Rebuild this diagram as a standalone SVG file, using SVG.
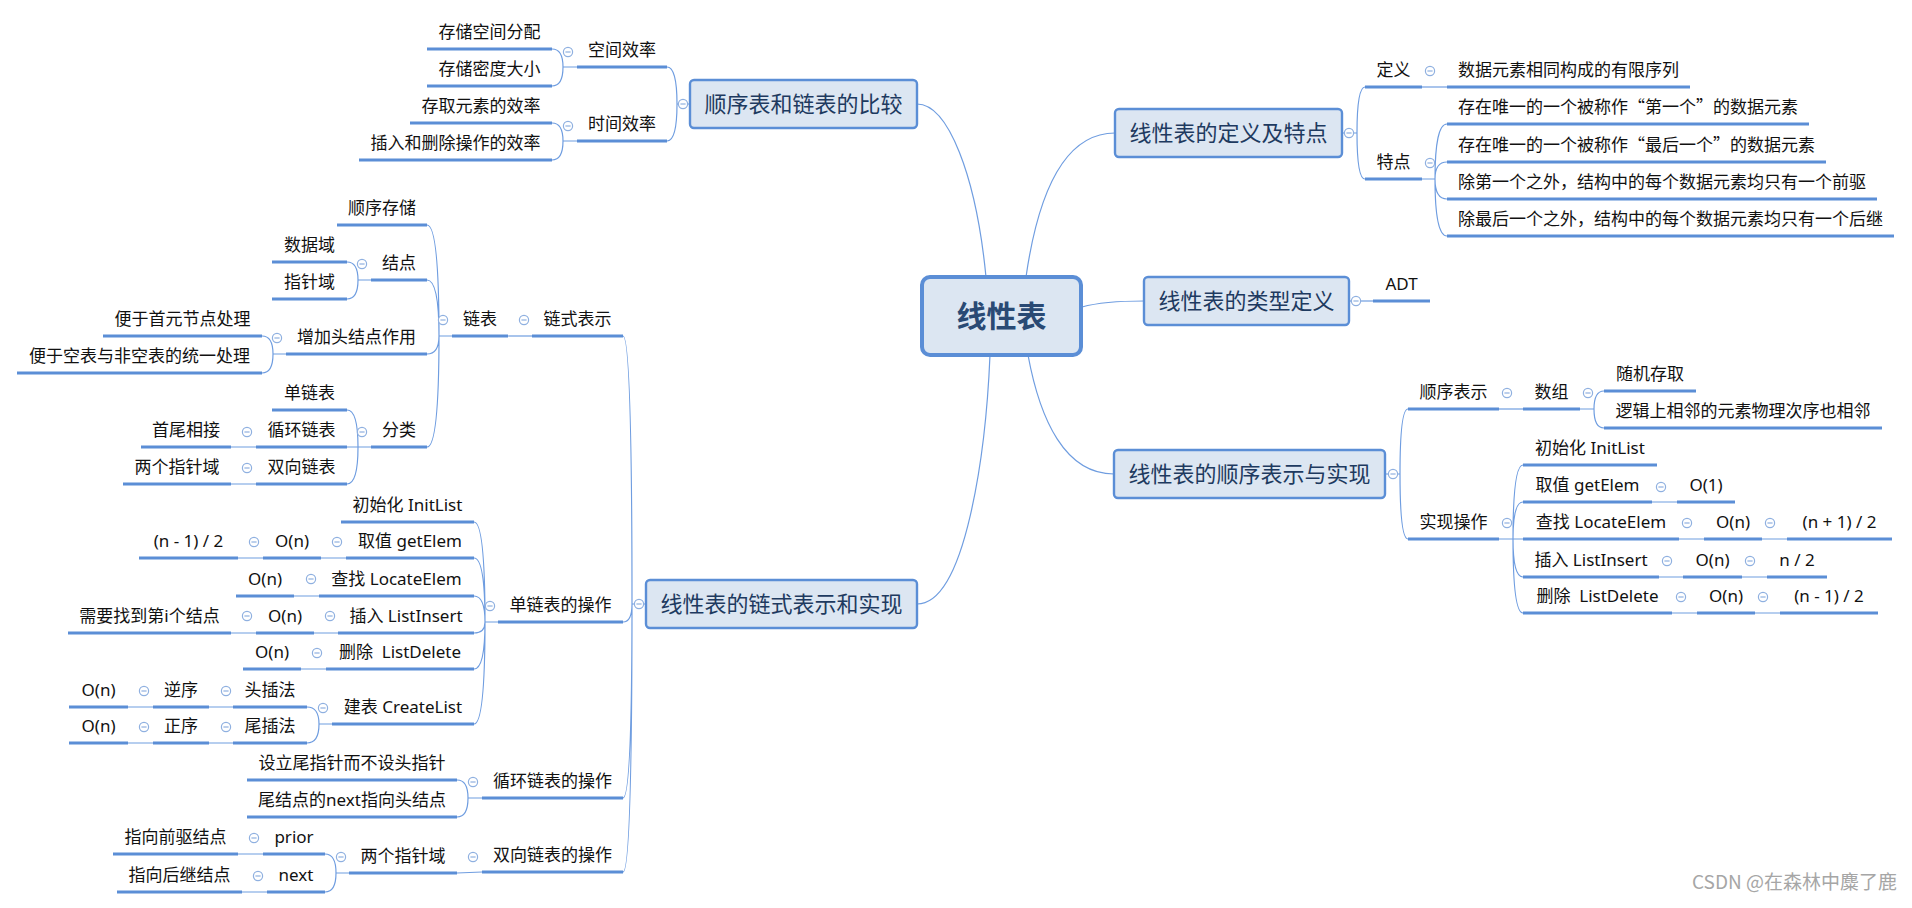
<svg xmlns="http://www.w3.org/2000/svg" xmlns:xlink="http://www.w3.org/1999/xlink" width="1912" height="908" viewBox="0 0 1912 908">
<style>
.ul{stroke:#5b8ed6;stroke-width:3;fill:none}
.cn{stroke:#6f9de0;stroke-width:1.2;fill:none}
.t{font-family:"Noto Sans","Noto Sans CJK SC",sans-serif;font-size:17px;fill:#111;text-anchor:middle}
.q{font-family:"Noto Sans CJK SC",sans-serif}
.box{fill:#dce6f2;stroke:#5b8ed6;stroke-width:2.4}
.bt{font-family:"Noto Sans CJK SC","Liberation Sans",sans-serif;font-size:22px;fill:#1e3a60;text-anchor:middle}
.ct{font-family:"Noto Sans CJK SC","Liberation Sans",sans-serif;font-size:30px;font-weight:bold;fill:#2a4a74;text-anchor:middle}
.wm{font-family:"Noto Sans CJK SC","Liberation Sans",sans-serif;font-size:19px;fill:#a6a6a6;text-anchor:end}
</style>
<defs>
<g id="c"><circle r="4.6" fill="#fff" stroke="#8fb0e0" stroke-width="1.2"/><line x1="-2.6" y1="0" x2="2.6" y2="0" stroke="#8fb0e0" stroke-width="1.2"/></g>
</defs>
<rect width="1912" height="908" fill="#fff"/>

<g id="connectors">
<path class="cn" d="M917,104 C948,104 976,175 986,277"/>
<path class="cn" d="M1026,277 C1040,180 1070,133 1115,133"/>
<path class="cn" d="M1082,307 C1100,302 1120,301 1144,301"/>
<path class="cn" d="M1028,355 C1040,420 1065,474 1114,474"/>
<path class="cn" d="M990,355 C986,450 966,604 917,604"/>
<path class="cn" d="M690,104 H677 M677,104 Q677,67 667,67 M677,104 Q677,141 667,141"/>
<path class="cn" d="M577,67 H563 M563,67 Q563,49 552,49 M563,67 Q563,86 552,86"/>
<path class="cn" d="M577,141 H563 M563,141 Q563,123 552,123 M563,141 Q563,160 552,160"/>
<path class="cn" d="M646,604 H632 M632,604 Q632,336 623,336 M632,604 Q632,622 623,622 M632,604 Q632,798 623,798 M632,604 Q632,872 623,872"/>
<path class="cn" d="M532,336 H508"/>
<path class="cn" d="M452,336 H439 M439,336 Q439,225 427,225 M439,336 Q439,280 427,280 M439,336 Q439,354 427,354 M439,336 Q439,447 427,447"/>
<path class="cn" d="M371,280 H358 M358,280 Q358,262 347,262 M358,280 Q358,299 347,299"/>
<path class="cn" d="M286,354 H273 M273,354 Q273,336 262,336 M273,354 Q273,373 262,373"/>
<path class="cn" d="M371,447 H347 M358,447 Q358,410 347,410 M358,447 Q358,484 347,484"/>
<path class="cn" d="M256,447 H231 M256,484 H231"/>
<path class="cn" d="M498,622 H485 M485,622 Q485,522 474,522 M485,622 Q485,558 474,558 M485,622 Q485,596 474,596 M485,622 Q485,633 474,633 M485,622 Q485,669 474,669 M485,622 Q485,724 474,724"/>
<path class="cn" d="M346,558 H321 M263,558 H238 M319,596 H294 M338,633 H314 M256,633 H231 M326,669 H301"/>
<path class="cn" d="M332,724 H319 M319,724 Q319,707 307,707 M319,724 Q319,743 307,743"/>
<path class="cn" d="M233,707 H209 M153,707 H128 M233,743 H209 M153,743 H128"/>
<path class="cn" d="M482,798 H468 M468,798 Q468,780 457,780 M468,798 Q468,817 457,817"/>
<path class="cn" d="M482,872 L457,873"/>
<path class="cn" d="M349,873 H336 M336,873 Q336,854 325,854 M336,873 Q336,892 325,892"/>
<path class="cn" d="M263,854 H238 M267,892 H242"/>
<path class="cn" d="M1342,133 H1357 M1357,133 Q1357,87 1365,87 M1357,133 Q1357,179 1365,179"/>
<path class="cn" d="M1422,87 H1447"/>
<path class="cn" d="M1422,179 H1435 M1435,179 Q1435,124 1447,124 M1435,179 Q1435,162 1447,162 M1435,179 Q1435,199 1447,199 M1435,179 Q1435,236 1447,236"/>
<path class="cn" d="M1349,301 H1373"/>
<path class="cn" d="M1385,474 H1400 M1400,474 Q1400,409 1408,409 M1400,474 Q1400,539 1408,539"/>
<path class="cn" d="M1499,409 H1523"/>
<path class="cn" d="M1580,409 H1594 M1594,409 Q1594,391 1604,391 M1594,409 Q1594,428 1604,428"/>
<path class="cn" d="M1499,539 H1513 M1513,539 Q1513,465 1523,465 M1513,539 Q1513,502 1523,502 M1513,539 H1523 M1513,539 Q1513,577 1523,577 M1513,539 Q1513,613 1523,613"/>
<path class="cn" d="M1652,502 H1677 M1679,539 H1704 M1762,539 H1787 M1659,577 H1683 M1742,577 H1767 M1672,613 H1697 M1755,613 H1780"/>
</g>

<g id="root"><rect x="922" y="277" width="159" height="78" rx="8" fill="#dce6f2" stroke="#5b8ed6" stroke-width="4"/><text class="ct" x="1001.5" y="327">线性表</text></g>

<g id="n_compare"><rect class="box" x="690" y="80" width="227" height="48" rx="4"/><text class="bt" x="803.5" y="112">顺序表和链表的比较</text><use xlink:href="#c" x="683" y="104"/></g>
<g id="n_linked"><rect class="box" x="646" y="580" width="271" height="48" rx="4"/><text class="bt" x="781.5" y="612">线性表的链式表示和实现</text><use xlink:href="#c" x="639" y="604"/></g>
<g id="n_def"><rect class="box" x="1115" y="109" width="227" height="48" rx="4"/><text class="bt" x="1228.5" y="141">线性表的定义及特点</text><use xlink:href="#c" x="1349" y="133"/></g>
<g id="n_type"><rect class="box" x="1144" y="277" width="205" height="48" rx="4"/><text class="bt" x="1246.5" y="309">线性表的类型定义</text><use xlink:href="#c" x="1356" y="301"/></g>
<g id="n_seq"><rect class="box" x="1114" y="450" width="271" height="48" rx="4"/><text class="bt" x="1249.5" y="482">线性表的顺序表示与实现</text><use xlink:href="#c" x="1393" y="474"/></g>

<g id="n_space"><path class="ul" d="M577,67 H667"/><text class="t" x="622" y="56">空间效率</text><use xlink:href="#c" x="568" y="52"/></g>
<g id="n_space1"><path class="ul" d="M427,49 H552"/><text class="t" x="489.5" y="38">存储空间分配</text></g>
<g id="n_space2"><path class="ul" d="M427,86 H552"/><text class="t" x="489.5" y="75">存储密度大小</text></g>
<g id="n_time"><path class="ul" d="M577,141 H667"/><text class="t" x="622" y="130">时间效率</text><use xlink:href="#c" x="568" y="126"/></g>
<g id="n_time1"><path class="ul" d="M410,123 H552"/><text class="t" x="481" y="112">存取元素的效率</text></g>
<g id="n_time2"><path class="ul" d="M359,160 H552"/><text class="t" x="455.5" y="149">插入和删除操作的效率</text></g>

<g id="n_chain"><path class="ul" d="M532,336 H623"/><text class="t" x="577.5" y="325">链式表示</text><use xlink:href="#c" x="524" y="320"/></g>
<g id="n_list"><path class="ul" d="M452,336 H508"/><text class="t" x="480" y="325">链表</text><use xlink:href="#c" x="443" y="320"/></g>
<g id="n_seqstore"><path class="ul" d="M337,225 H427"/><text class="t" x="382" y="214">顺序存储</text></g>
<g id="n_node"><path class="ul" d="M371,280 H427"/><text class="t" x="399" y="269">结点</text><use xlink:href="#c" x="362" y="264"/></g>
<g id="n_data"><path class="ul" d="M272,262 H347"/><text class="t" x="309.5" y="251">数据域</text></g>
<g id="n_ptr"><path class="ul" d="M272,299 H347"/><text class="t" x="309.5" y="288">指针域</text></g>
<g id="n_head"><path class="ul" d="M286,354 H427"/><text class="t" x="356.5" y="343">增加头结点作用</text><use xlink:href="#c" x="277" y="338"/></g>
<g id="n_head1"><path class="ul" d="M103,336 H262"/><text class="t" x="182.5" y="325">便于首元节点处理</text></g>
<g id="n_head2"><path class="ul" d="M17,373 H262"/><text class="t" x="139.5" y="362">便于空表与非空表的统一处理</text></g>
<g id="n_class"><path class="ul" d="M371,447 H427"/><text class="t" x="399" y="436">分类</text><use xlink:href="#c" x="362" y="432"/></g>
<g id="n_single"><path class="ul" d="M272,410 H347"/><text class="t" x="309.5" y="399">单链表</text></g>
<g id="n_circ"><path class="ul" d="M256,447 H347"/><text class="t" x="301.5" y="436">循环链表</text><use xlink:href="#c" x="247" y="432"/></g>
<g id="n_circ1"><path class="ul" d="M141,447 H231"/><text class="t" x="186" y="436">首尾相接</text></g>
<g id="n_dbl"><path class="ul" d="M256,484 H347"/><text class="t" x="301.5" y="473">双向链表</text><use xlink:href="#c" x="247" y="468"/></g>
<g id="n_dbl1"><path class="ul" d="M123,484 H231"/><text class="t" x="177" y="473">两个指针域</text></g>

<g id="n_sop"><path class="ul" d="M498,622 H623"/><text class="t" x="560.5" y="611">单链表的操作</text><use xlink:href="#c" x="490" y="606"/></g>
<g id="n_s_init"><path class="ul" d="M341,522 H474"/><text class="t" x="407.5" y="511">初始化 InitList</text></g>
<g id="n_s_get"><path class="ul" d="M346,558 H474"/><text class="t" x="410" y="547">取值 getElem</text><use xlink:href="#c" x="337" y="542"/></g>
<g id="n_s_get1"><path class="ul" d="M263,558 H321"/><text class="t" x="292" y="547">O(n)</text><use xlink:href="#c" x="254" y="542"/></g>
<g id="n_s_get2"><path class="ul" d="M139,558 H238"/><text class="t" x="188.5" y="547">(n - 1) / 2</text></g>
<g id="n_s_loc"><path class="ul" d="M319,596 H474"/><text class="t" x="396.5" y="585">查找 LocateElem</text><use xlink:href="#c" x="311" y="579"/></g>
<g id="n_s_loc1"><path class="ul" d="M236,596 H294"/><text class="t" x="265" y="585">O(n)</text></g>
<g id="n_s_ins"><path class="ul" d="M338,633 H474"/><text class="t" x="406" y="622">插入 ListInsert</text><use xlink:href="#c" x="330" y="616"/></g>
<g id="n_s_ins1"><path class="ul" d="M256,633 H314"/><text class="t" x="285" y="622">O(n)</text><use xlink:href="#c" x="247" y="616"/></g>
<g id="n_s_ins2"><path class="ul" d="M68,633 H231"/><text class="t" x="149.5" y="622">需要找到第i个结点</text></g>
<g id="n_s_del"><path class="ul" d="M326,669 H474"/><text class="t" x="400" y="658" xml:space="preserve">删除  ListDelete</text><use xlink:href="#c" x="317" y="653"/></g>
<g id="n_s_del1"><path class="ul" d="M243,669 H301"/><text class="t" x="272" y="658">O(n)</text></g>
<g id="n_s_create"><path class="ul" d="M332,724 H474"/><text class="t" x="403" y="713">建表 CreateList</text><use xlink:href="#c" x="323" y="708"/></g>
<g id="n_s_headins"><path class="ul" d="M233,707 H307"/><text class="t" x="270" y="696">头插法</text><use xlink:href="#c" x="226" y="691"/></g>
<g id="n_s_rev"><path class="ul" d="M153,707 H209"/><text class="t" x="181" y="696">逆序</text><use xlink:href="#c" x="144" y="691"/></g>
<g id="n_s_rev1"><path class="ul" d="M69,707 H128"/><text class="t" x="98.5" y="696">O(n)</text></g>
<g id="n_s_tailins"><path class="ul" d="M233,743 H307"/><text class="t" x="270" y="732">尾插法</text><use xlink:href="#c" x="226" y="727"/></g>
<g id="n_s_fwd"><path class="ul" d="M153,743 H209"/><text class="t" x="181" y="732">正序</text><use xlink:href="#c" x="144" y="727"/></g>
<g id="n_s_fwd1"><path class="ul" d="M69,743 H128"/><text class="t" x="98.5" y="732">O(n)</text></g>

<g id="n_cop"><path class="ul" d="M482,798 H623"/><text class="t" x="552.5" y="787">循环链表的操作</text><use xlink:href="#c" x="473" y="782"/></g>
<g id="n_c1"><path class="ul" d="M247,780 H457"/><text class="t" x="352" y="769">设立尾指针而不设头指针</text></g>
<g id="n_c2"><path class="ul" d="M247,817 H457"/><text class="t" x="352" y="806">尾结点的next指向头结点</text></g>

<g id="n_dop"><path class="ul" d="M482,872 H623"/><text class="t" x="552.5" y="861">双向链表的操作</text><use xlink:href="#c" x="473" y="857"/></g>
<g id="n_d1"><path class="ul" d="M349,873 H457"/><text class="t" x="403" y="862">两个指针域</text><use xlink:href="#c" x="341" y="857"/></g>
<g id="n_prior"><path class="ul" d="M263,854 H325"/><text class="t" x="294" y="843">prior</text><use xlink:href="#c" x="254" y="838"/></g>
<g id="n_prior1"><path class="ul" d="M113,854 H238"/><text class="t" x="175.5" y="843">指向前驱结点</text></g>
<g id="n_next"><path class="ul" d="M267,892 H325"/><text class="t" x="296" y="881">next</text><use xlink:href="#c" x="258" y="876"/></g>
<g id="n_next1"><path class="ul" d="M117,892 H242"/><text class="t" x="179.5" y="881">指向后继结点</text></g>

<g id="n_defn"><path class="ul" d="M1365,87 H1422"/><text class="t" x="1393.5" y="76">定义</text><use xlink:href="#c" x="1430" y="71"/></g>
<g id="n_defn1"><path class="ul" d="M1447,87 H1690"/><text class="t" x="1568.5" y="76">数据元素相同构成的有限序列</text></g>
<g id="n_feat"><path class="ul" d="M1365,179 H1422"/><text class="t" x="1393.5" y="168">特点</text><use xlink:href="#c" x="1430" y="163"/></g>
<g id="n_feat1"><path class="ul" d="M1447,124 H1809"/><text class="t q" x="1628" y="113">存在唯一的一个被称作“第一个”的数据元素</text></g>
<g id="n_feat2"><path class="ul" d="M1447,162 H1826"/><text class="t q" x="1636.5" y="151">存在唯一的一个被称作“最后一个”的数据元素</text></g>
<g id="n_feat3"><path class="ul" d="M1447,199 H1877"/><text class="t" x="1662" y="188">除第一个之外，结构中的每个数据元素均只有一个前驱</text></g>
<g id="n_feat4"><path class="ul" d="M1447,236 H1894"/><text class="t" x="1670.5" y="225">除最后一个之外，结构中的每个数据元素均只有一个后继</text></g>

<g id="n_adt"><path class="ul" d="M1373,301 H1430"/><text class="t" x="1401.5" y="290">ADT</text></g>

<g id="n_seqrep"><path class="ul" d="M1408,409 H1499"/><text class="t" x="1453.5" y="398">顺序表示</text><use xlink:href="#c" x="1507" y="393"/></g>
<g id="n_array"><path class="ul" d="M1523,409 H1580"/><text class="t" x="1551.5" y="398">数组</text><use xlink:href="#c" x="1588" y="393"/></g>
<g id="n_array1"><path class="ul" d="M1604,391 H1696"/><text class="t" x="1650" y="380">随机存取</text></g>
<g id="n_array2"><path class="ul" d="M1604,428 H1882"/><text class="t" x="1743" y="417">逻辑上相邻的元素物理次序也相邻</text></g>
<g id="n_impl"><path class="ul" d="M1408,539 H1499"/><text class="t" x="1453.5" y="528">实现操作</text><use xlink:href="#c" x="1507" y="523"/></g>
<g id="n_r_init"><path class="ul" d="M1523,465 H1657"/><text class="t" x="1590" y="454">初始化 InitList</text></g>
<g id="n_r_get"><path class="ul" d="M1523,502 H1652"/><text class="t" x="1587.5" y="491">取值 getElem</text><use xlink:href="#c" x="1661" y="487"/></g>
<g id="n_r_get1"><path class="ul" d="M1677,502 H1735"/><text class="t" x="1706" y="491">O(1)</text></g>
<g id="n_r_loc"><path class="ul" d="M1523,539 H1679"/><text class="t" x="1601" y="528">查找 LocateElem</text><use xlink:href="#c" x="1687" y="523"/></g>
<g id="n_r_loc1"><path class="ul" d="M1704,539 H1762"/><text class="t" x="1733" y="528">O(n)</text><use xlink:href="#c" x="1770" y="523"/></g>
<g id="n_r_loc2"><path class="ul" d="M1787,539 H1892"/><text class="t" x="1839.5" y="528">(n + 1) / 2</text></g>
<g id="n_r_ins"><path class="ul" d="M1523,577 H1659"/><text class="t" x="1591" y="566">插入 ListInsert</text><use xlink:href="#c" x="1667" y="561"/></g>
<g id="n_r_ins1"><path class="ul" d="M1683,577 H1742"/><text class="t" x="1712.5" y="566">O(n)</text><use xlink:href="#c" x="1750" y="561"/></g>
<g id="n_r_ins2"><path class="ul" d="M1767,577 H1827"/><text class="t" x="1797" y="566">n / 2</text></g>
<g id="n_r_del"><path class="ul" d="M1523,613 H1672"/><text class="t" x="1597.5" y="602" xml:space="preserve">删除  ListDelete</text><use xlink:href="#c" x="1681" y="597"/></g>
<g id="n_r_del1"><path class="ul" d="M1697,613 H1755"/><text class="t" x="1726" y="602">O(n)</text><use xlink:href="#c" x="1763" y="597"/></g>
<g id="n_r_del2"><path class="ul" d="M1780,613 H1878"/><text class="t" x="1829" y="602">(n - 1) / 2</text></g>

<text class="wm" x="1897" y="889">CSDN @在森林中麋了鹿</text>
</svg>
